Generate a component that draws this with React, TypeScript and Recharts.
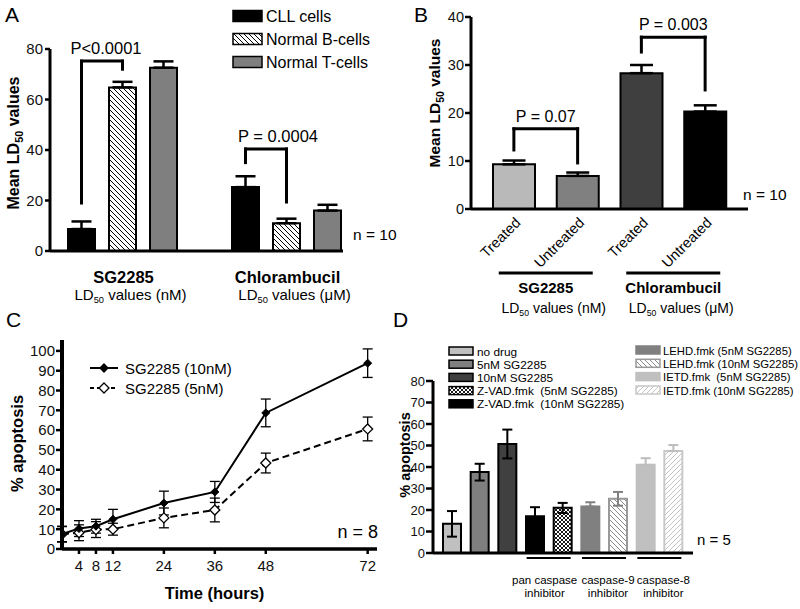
import React from 'react';
import { BarChart, Bar, XAxis, YAxis, Cell, ErrorBar, ReferenceLine, LineChart, Line } from 'recharts';

const FONT = '"Liberation Sans", Arial, Helvetica, sans-serif';

// ================= Panel A data =================
const aGroups = ['SG2285', 'Chlorambucil'];
const aUnits = ['(nM)', '(μM)'];
const aCellTypes = ['CLL cells', 'Normal B-cells', 'Normal T-cells'];
const aSG2285 = [8.7, 64.8, 72.6];
const aSG2285Err = [3.0, 2.2, 2.5];
const aChlorambucil = [25.3, 11.0, 16.0];
const aChlorambucilErr = [4.3, 1.8, 2.3];
const aYTicks = [0, 20, 40, 60, 80];
const aPValues = ['P<0.0001', 'P = 0.0004'];
const aBracketSG2285 = [19, 75.2, 72];
const aBracketChlorambucil = [35, 40.4, 19.4];
const aN = 'n = 10';

// ================= Panel B data =================
const bGroups = ['SG2285', 'Chlorambucil'];
const bUnits = ['(nM)', '(μM)'];
const bConditions = ['Treated', 'Untreated', 'Treated', 'Untreated'];
const bValues = [9.3, 6.9, 28.3, 20.3];
const bErrors = [0.8, 0.7, 1.7, 1.3];
const bYTicks = [0, 10, 20, 30, 40];
const bPValues = ['P = 0.07', 'P = 0.003'];
const bBracketSG2285 = [12.3, 16.7, 9.6];
const bBracketChlorambucil = [32.7, 35.8, 24.8];
const bN = 'n = 10';

// ================= Panel C data =================
const cTimes = [0, 4, 8, 12, 24, 36, 48, 72];
const c10nM = [7.5, 10.3, 11.5, 15.0, 23.2, 28.8, 68.7, 93.8];
const c10nMErr = [3.8, 4.0, 3.5, 5.0, 6.0, 5.3, 7.0, 7.2];
const c5nM = [7.5, 8.2, 9.8, 10.0, 15.7, 19.7, 43.4, 60.6];
const c5nMErr = [4.0, 4.0, 4.0, 3.0, 5.0, 6.0, 5.0, 6.0];
const cXTicks = [4, 8, 12, 24, 36, 48, 72];
const cYTicks = [0, 10, 20, 30, 40, 50, 60, 70, 80, 90, 100];
const cSeries = ['SG2285 (10nM)', 'SG2285 (5nM)'];
const cN = 'n = 8';

// ================= Panel D data =================
const dTreatments = [
  'no drug',
  '5nM SG2285',
  '10nM SG2285',
  'Z-VAD.fmk  (10nM SG2285)',
  'Z-VAD.fmk  (5nM SG2285)',
  'LEHD.fmk (5nM SG2285)',
  'LEHD.fmk (10nM SG2285)',
  'IETD.fmk  (5nM SG2285)',
  'IETD.fmk (10nM SG2285)',
];
const dValues = [13.6, 37.7, 50.7, 17.1, 21.0, 21.6, 25.2, 41.0, 47.4];
const dErrLow = [6.0, 4.0, 6.7, 4.2, 2.4, 0, 3.2, 0, 0];
const dErrHigh = [5.9, 3.8, 6.7, 4.2, 2.3, 2.0, 3.2, 3.1, 2.8];
const dYTicks = [0, 10, 20, 30, 40, 50, 60, 70, 80];
const dInhibitors = ['pan caspase', 'caspase-9', 'caspase-8'];
const dLegendLeft = [0, 1, 2, 4, 3];
const dLegendRight = [5, 6, 7, 8];
const dN = 'n = 5';

// ================= styles =================
const aFills = ['#000000', 'url(#hatchA)', '#7f7f7f'];
const bFills = ['#b9b9b9', '#808080', '#3f3f3f', '#000000'];
const dFills = ['#c0c0c0', '#7f7f7f', '#404040', '#000000', 'url(#crossD)', '#808080', 'url(#hatchD1)', '#c0c0c0', 'url(#hatchD2)'];
const dStrokes = ['#000', '#000', '#000', '#000', '#000', '#808080', '#999999', '#c0c0c0', '#c8c8c8'];
const dTier = [0, 0, 0, 0, 0, 1, 1, 2, 2];
const dTierKeys = ['dark', 'mid', 'light'];
const dTierColors = ['#000000', '#808080', '#bdbdbd'];
const dLabelShift = [-4, 4, 4];

// ================= build tables =================
const aData = [
  ...aSG2285.map((v, i) => ({ key: `${aGroups[0]}|${i}`, group: 0, type: i, value: v, err: [0, aSG2285Err[i]] })),
  { key: 'gap', group: -1, type: -1, value: null as any, err: null as any },
  ...aChlorambucil.map((v, i) => ({ key: `${aGroups[1]}|${i}`, group: 1, type: i, value: v, err: [0, aChlorambucilErr[i]] })),
];

const bData = bValues.map((v, i) => ({
  key: `${bGroups[Math.floor(i / 2)]}|${bConditions[i]}`,
  idx: i,
  value: v,
  err: [0, bErrors[i]],
}));

const cData = cTimes.map((t, i) => ({ t, a: c10nM[i], aErr: c10nMErr[i], b: c5nM[i], bErr: c5nMErr[i] }));

const dData = dTreatments.map((t, i) => {
  const row: any = { key: t, idx: i };
  dTierKeys.forEach((k, ti) => {
    row[k] = dTier[i] === ti ? dValues[i] : null;
    row[k + 'Err'] = dTier[i] === ti ? [dErrLow[i], dErrHigh[i]] : null;
  });
  return row;
});

// ================= helpers =================
const diamond = (cx: number, cy: number, r: number) => `M${cx},${cy - r} L${cx + r},${cy} L${cx},${cy + r} L${cx - r},${cy} Z`;

const LD50 = ({ x, y, unit, fontSize }: any) => (
  <text x={x} y={y} textAnchor="middle" fontSize={fontSize} fill="#000">
    LD<tspan fontSize={fontSize * 0.62} dy={fontSize * 0.22}>50</tspan>
    <tspan dy={-fontSize * 0.22}>{` values ${unit}`}</tspan>
  </text>
);

const vbOf = (vb: any) => {
  if (vb && vb.width !== undefined) return vb;
  if (vb && vb.x1 !== undefined) {
    return { x: Math.min(vb.x1, vb.x2), y: Math.min(vb.y1, vb.y2), width: Math.abs(vb.x2 - vb.x1), height: Math.abs(vb.y2 - vb.y1) };
  }
  return { x: 0, y: 0, width: 0, height: 0 };
};

function bracket(id: string, xa: string, xb: string, legs: number[], text: string, fontSize: number, dx: number) {
  const common: any = { stroke: '#000', strokeWidth: 3, strokeLinecap: 'square', ifOverflow: 'visible' };
  return [
    <ReferenceLine key={id + 'l'} segment={[{ x: xa, y: legs[0] }, { x: xa, y: legs[1] }]} {...common} />,
    <ReferenceLine
      key={id + 't'}
      segment={[{ x: xa, y: legs[1] }, { x: xb, y: legs[1] }]}
      {...common}
      label={(p: any) => {
        const vb = vbOf(p.viewBox);
        return (
          <text x={vb.x + vb.width / 2 + dx} y={vb.y - 7} textAnchor="middle" fontSize={fontSize} fill="#000">
            {text}
          </text>
        );
      }}
    />,
    <ReferenceLine key={id + 'r'} segment={[{ x: xb, y: legs[1] }, { x: xb, y: legs[2] }]} {...common} />,
  ];
}

const meanLDLabel = (fontSize: number, dxc: number, dyc: number) => (p: any) => {
  const vb = vbOf(p.viewBox);
  const cx = vb.x + dxc;
  const cy = vb.y + vb.height / 2 + dyc;
  return (
    <text transform={`rotate(-90 ${cx} ${cy})`} x={cx} y={cy} dy="0.35em" textAnchor="middle" fontSize={fontSize} fontWeight="bold" fill="#000">
      Mean LD<tspan fontSize={fontSize * 0.68} dy={4}>50</tspan>
      <tspan dy={-4}> values</tspan>
    </text>
  );
};

const apoptosisLabel = (fontSize: number, dxc: number, dyc: number) => (p: any) => {
  const vb = vbOf(p.viewBox);
  const cx = vb.x + dxc;
  const cy = vb.y + vb.height / 2 + dyc;
  return (
    <text transform={`rotate(-90 ${cx} ${cy})`} x={cx} y={cy} dy="0.35em" textAnchor="middle" fontSize={fontSize} fontWeight="bold" fill="#000">
      % apoptosis
    </text>
  );
};

// ================= ticks =================
const renderATick = (p: any) => {
  const { x, y, payload } = p;
  const row = aData.find((r) => r.key === payload.value);
  if (!row || row.type !== 1) return <g />;
  return (
    <g>
      <text x={x + 1} y={y + 32} textAnchor="middle" fontSize={16.5} fontWeight="bold" fill="#000">
        {aGroups[row.group]}
      </text>
      <LD50 x={x + 8} y={y + 49} unit={aUnits[row.group]} fontSize={15} />
    </g>
  );
};

const renderBTick = (p: any) => {
  const { x, y, payload } = p;
  const row = bData.find((r) => r.key === payload.value);
  if (!row) return <g />;
  const half = typeof payload.offset === 'number' && payload.offset > 0 ? payload.offset : 31.8;
  const tx = x + 4;
  const ty = y + 11;
  const gi = Math.floor(row.idx / 2);
  return (
    <g>
      <text x={tx} y={ty} dy="0.35em" transform={`rotate(-45 ${tx} ${ty})`} textAnchor="end" fontSize={14.5} fill="#000">
        {bConditions[row.idx]}
      </text>
      {row.idx % 2 === 0 && (
        <g>
          <line x1={x + half - 47} x2={x + half + 47} y1={y + 64} y2={y + 64} stroke="#000" strokeWidth={3} />
          <text x={x + half} y={y + 84} textAnchor="middle" fontSize={15} fontWeight="bold" fill="#000">
            {bGroups[gi]}
          </text>
          <LD50 x={x + half + 8} y={y + 104} unit={bUnits[gi]} fontSize={14} />
        </g>
      )}
    </g>
  );
};

const renderDTick = (p: any) => {
  const { x, y, payload } = p;
  const row = dData.find((r: any) => r.key === payload.value);
  if (!row || row.idx < 3 || row.idx % 2 === 0) return <g />;
  const half = typeof payload.offset === 'number' && payload.offset > 0 ? payload.offset : 13.85;
  const cx = x + half;
  const gi = (row.idx - 3) / 2;
  const tx = cx + dLabelShift[gi];
  return (
    <g>
      <line x1={cx - 22} x2={cx + 22} y1={y + 5} y2={y + 5} stroke="#000" strokeWidth={2} />
      <text x={tx} y={y + 31} textAnchor="middle" fontSize={11.5} fill="#000">
        {dInhibitors[gi]}
      </text>
      <text x={tx} y={y + 44} textAnchor="middle" fontSize={11.5} fill="#000">
        inhibitor
      </text>
    </g>
  );
};

const axisStyle = (w: number) => ({ stroke: '#000', strokeWidth: w });

// ================= charts =================
const PanelA = () => (
  <BarChart width={400} height={310} data={aData} margin={{ top: 49, right: 57, bottom: 0, left: 10 }}>
    <defs>
      <pattern id="hatchA" patternUnits="userSpaceOnUse" width={5} height={5}>
        <rect width={5} height={5} fill="#fff" />
        <path d="M0,0 L5,5 M-1,4 L1,6 M4,-1 L6,1" stroke="#000" strokeWidth={1} />
      </pattern>
    </defs>
    <XAxis
      dataKey="key"
      type="category"
      height={59}
      interval={0}
      tickSize={0}
      tickMargin={0}
      tickLine={false}
      axisLine={axisStyle(3)}
      padding={{ left: 11, right: -5 }}
      tick={renderATick}
    />
    <YAxis
      type="number"
      domain={[0, 80]}
      ticks={aYTicks}
      interval={0}
      width={40}
      tickSize={5}
      tickMargin={2}
      axisLine={axisStyle(3)}
      tickLine={axisStyle(2.5)}
      tick={{ fill: '#111', fontSize: 15 }}
      label={meanLDLabel(16, 3, -7)}
    />
    <Bar dataKey="value" barSize={27} isAnimationActive={false} stroke="#000" strokeWidth={2}>
      {aData.map((d, i) => (
        <Cell key={i} fill={d.type >= 0 ? aFills[d.type] : 'none'} />
      ))}
      <ErrorBar dataKey="err" width={10} stroke="#000" strokeWidth={2.5} direction="y" />
    </Bar>
    {bracket('a1', `${aGroups[0]}|0`, `${aGroups[0]}|1`, aBracketSG2285, aPValues[0], 16.5, 4)}
    {bracket('a2', `${aGroups[1]}|0`, `${aGroups[1]}|1`, aBracketChlorambucil, aPValues[1], 16.5, 12)}
  </BarChart>
);

const PanelB = () => (
  <BarChart width={400} height={320} data={bData} margin={{ top: 17, right: 52, bottom: 0, left: 15 }}>
    <XAxis
      dataKey="key"
      type="category"
      height={111}
      interval={0}
      tickSize={0}
      tickMargin={0}
      tickLine={false}
      axisLine={axisStyle(3)}
      padding={{ left: 11, right: 11 }}
      tick={renderBTick}
    />
    <YAxis
      type="number"
      domain={[0, 40]}
      ticks={bYTicks}
      interval={0}
      width={56}
      tickSize={6}
      tickMargin={1}
      axisLine={axisStyle(3)}
      tickLine={axisStyle(2.5)}
      tick={{ fill: '#111', fontSize: 14.5 }}
      label={meanLDLabel(15.5, 20, -10)}
    />
    <Bar dataKey="value" barSize={42} isAnimationActive={false} stroke="#000" strokeWidth={2}>
      {bData.map((d, i) => (
        <Cell key={i} fill={bFills[i]} />
      ))}
      <ErrorBar dataKey="err" width={11.5} stroke="#000" strokeWidth={2.5} direction="y" />
    </Bar>
    {bracket('b1', bData[0].key, bData[1].key, bBracketSG2285, bPValues[0], 16, 0)}
    {bracket('b2', bData[2].key, bData[3].key, bBracketChlorambucil, bPValues[1], 16, 0)}
  </BarChart>
);

const PanelC = () => (
  <LineChart width={400} height={309} data={cData} margin={{ top: 40, right: 23, bottom: 0, left: 10 }}>
    <XAxis
      dataKey="t"
      type="number"
      domain={[0, 74.2]}
      allowDataOverflow
      ticks={cXTicks}
      interval={0}
      height={60}
      tickSize={5}
      tickMargin={6}
      axisLine={axisStyle(3.5)}
      tickLine={axisStyle(2.5)}
      tick={{ fill: '#111', fontSize: 15 }}
      label={(p: any) => {
        const vb = vbOf(p.viewBox);
        return (
          <text x={vb.x + vb.width / 2 - 5} y={vb.y + 50} textAnchor="middle" fontSize={16.5} fontWeight="bold" fill="#000">
            Time (hours)
          </text>
        );
      }}
    />
    <YAxis
      type="number"
      domain={[0, 105.5]}
      allowDataOverflow
      ticks={cYTicks}
      interval={0}
      width={52}
      tickSize={6}
      tickMargin={1}
      axisLine={axisStyle(4)}
      tickLine={axisStyle(2.5)}
      tick={{ fill: '#111', fontSize: 15 }}
      label={apoptosisLabel(16.5, 7, -1)}
    />
    <Line
      dataKey="b"
      stroke="#000"
      strokeWidth={2}
      strokeDasharray="7 4"
      isAnimationActive={false}
      dot={(p: any) => <path key={`b${p.index}`} d={diamond(p.cx, p.cy, 5)} fill="#fff" stroke="#000" strokeWidth={1.3} />}
    >
      <ErrorBar dataKey="bErr" width={5} stroke="#000" strokeWidth={1.3} direction="y" />
    </Line>
    <Line
      dataKey="a"
      stroke="#000"
      strokeWidth={2}
      isAnimationActive={false}
      dot={(p: any) => <path key={`a${p.index}`} d={diamond(p.cx, p.cy, 4)} fill="#000" stroke="#000" strokeWidth={1} />}
    >
      <ErrorBar dataKey="aErr" width={5} stroke="#000" strokeWidth={1.3} direction="y" />
    </Line>
  </LineChart>
);

const PanelD = () => (
  <BarChart width={410} height={309} data={dData} margin={{ top: 81, right: 107, bottom: 0, left: 15 }}>
    <defs>
      <pattern id="crossD" patternUnits="userSpaceOnUse" width={4} height={4}>
        <rect width={4} height={4} fill="#fff" />
        <path d="M0,0 L4,4 M4,0 L0,4" stroke="#000" strokeWidth={0.9} />
      </pattern>
      <pattern id="hatchD1" patternUnits="userSpaceOnUse" width={5} height={5}>
        <rect width={5} height={5} fill="#fff" />
        <path d="M0,0 L5,5 M-1,4 L1,6 M4,-1 L6,1" stroke="#8a8a8a" strokeWidth={1} />
      </pattern>
      <pattern id="hatchD2" patternUnits="userSpaceOnUse" width={5} height={5}>
        <rect width={5} height={5} fill="#fff" />
        <path d="M0,5 L5,0 M-1,1 L1,-1 M4,6 L6,4" stroke="#c4c4c4" strokeWidth={1} />
      </pattern>
    </defs>
    <XAxis
      dataKey="key"
      type="category"
      height={56}
      interval={0}
      tickSize={0}
      tickMargin={0}
      tickLine={false}
      axisLine={axisStyle(3)}
      padding={{ left: 5, right: 6 }}
      tick={renderDTick}
    />
    <YAxis
      type="number"
      domain={[0, 80]}
      ticks={dYTicks}
      interval={0}
      width={28}
      tickSize={7}
      tickMargin={1}
      axisLine={axisStyle(3)}
      tickLine={axisStyle(2.5)}
      tick={{ fill: '#111', fontSize: 13 }}
      label={apoptosisLabel(14.5, 0, -12)}
    />
    {dTierKeys.map((k, ti) => (
      <Bar key={k} dataKey={k} stackId="d" barSize={18} isAnimationActive={false} strokeWidth={2}>
        {dData.map((d: any, i: number) => (
          <Cell key={i} fill={dFills[i]} stroke={dStrokes[i]} />
        ))}
        <ErrorBar dataKey={k + 'Err'} width={5} stroke={dTierColors[ti]} strokeWidth={2} direction="y" />
      </Bar>
    ))}
  </BarChart>
);

// ================= overlay (letters, legends, n labels) =================
const Overlay = () => {
  const aRows = [16, 39, 62];
  const dLeftRows = [351, 364.2, 377.4, 390.6, 403.8];
  const dRightRows = [350, 363.3, 376.6, 390];
  return (
    <svg width={800} height={609} style={{ position: 'absolute', left: 0, top: 0, pointerEvents: 'none' }}>
      <g fill="#000">
        <text x={5} y={22} fontSize={21}>A</text>
        <text x={414} y={22} fontSize={21}>B</text>
        <text x={6} y={327} fontSize={21}>C</text>
        <text x={393} y={327} fontSize={21}>D</text>
      </g>
      {aCellTypes.map((c, i) => (
        <g key={c}>
          <rect x={233} y={aRows[i] - 5.5} width={29} height={11} fill={aFills[i]} stroke="#000" strokeWidth={1.5} />
          <text x={266} y={aRows[i] + 5.5} fontSize={16} fill="#000">{c}</text>
        </g>
      ))}
      <text x={353} y={240} fontSize={15.5} fill="#000">{aN}</text>
      <text x={743} y={200} fontSize={15.5} fill="#000">{bN}</text>
      {cSeries.map((s, i) => {
        const y = 368 + i * 20;
        return (
          <g key={s}>
            <line x1={90} x2={118} y1={y} y2={y} stroke="#000" strokeWidth={2} strokeDasharray={i === 1 ? '4 3' : undefined} />
            <path d={diamond(104, y, i === 0 ? 4 : 5)} fill={i === 0 ? '#000' : '#fff'} stroke="#000" strokeWidth={1.3} />
            <text x={125} y={y + 5.5} fontSize={15} fill="#000">{s}</text>
          </g>
        );
      })}
      <text x={378} y={538} fontSize={18} textAnchor="end" fill="#000">{cN}</text>
      {dLegendLeft.map((ti, r) => (
        <g key={'l' + ti}>
          <rect x={449} y={dLeftRows[r] - 4} width={24} height={8} fill={dFills[ti]} stroke={dStrokes[ti]} strokeWidth={1.5} />
          <text x={477} y={dLeftRows[r] + 4.5} fontSize={11.8} fill="#000" style={{ whiteSpace: 'pre' }}>{dTreatments[ti]}</text>
        </g>
      ))}
      {dLegendRight.map((ti, r) => (
        <g key={'r' + ti}>
          <rect x={636} y={dRightRows[r] - 4} width={24} height={8} fill={dFills[ti]} stroke={dStrokes[ti]} strokeWidth={1.5} />
          <text x={663} y={dRightRows[r] + 4.5} fontSize={11.3} fill="#000" style={{ whiteSpace: 'pre' }}>{dTreatments[ti]}</text>
        </g>
      ))}
      <text x={697} y={545} fontSize={15} fill="#000">{dN}</text>
    </svg>
  );
};

export default function App() {
  return (
    <div style={{ position: 'absolute', left: 0, top: 0, width: 800, height: 609, background: '#fff', fontFamily: FONT, overflow: 'hidden' }}>
      <div style={{ position: 'absolute', left: 0, top: 0 }}><PanelA /></div>
      <div style={{ position: 'absolute', left: 400, top: 0 }}><PanelB /></div>
      <div style={{ position: 'absolute', left: 0, top: 300 }}><PanelC /></div>
      <div style={{ position: 'absolute', left: 390, top: 300 }}><PanelD /></div>
      <Overlay />
    </div>
  );
}
